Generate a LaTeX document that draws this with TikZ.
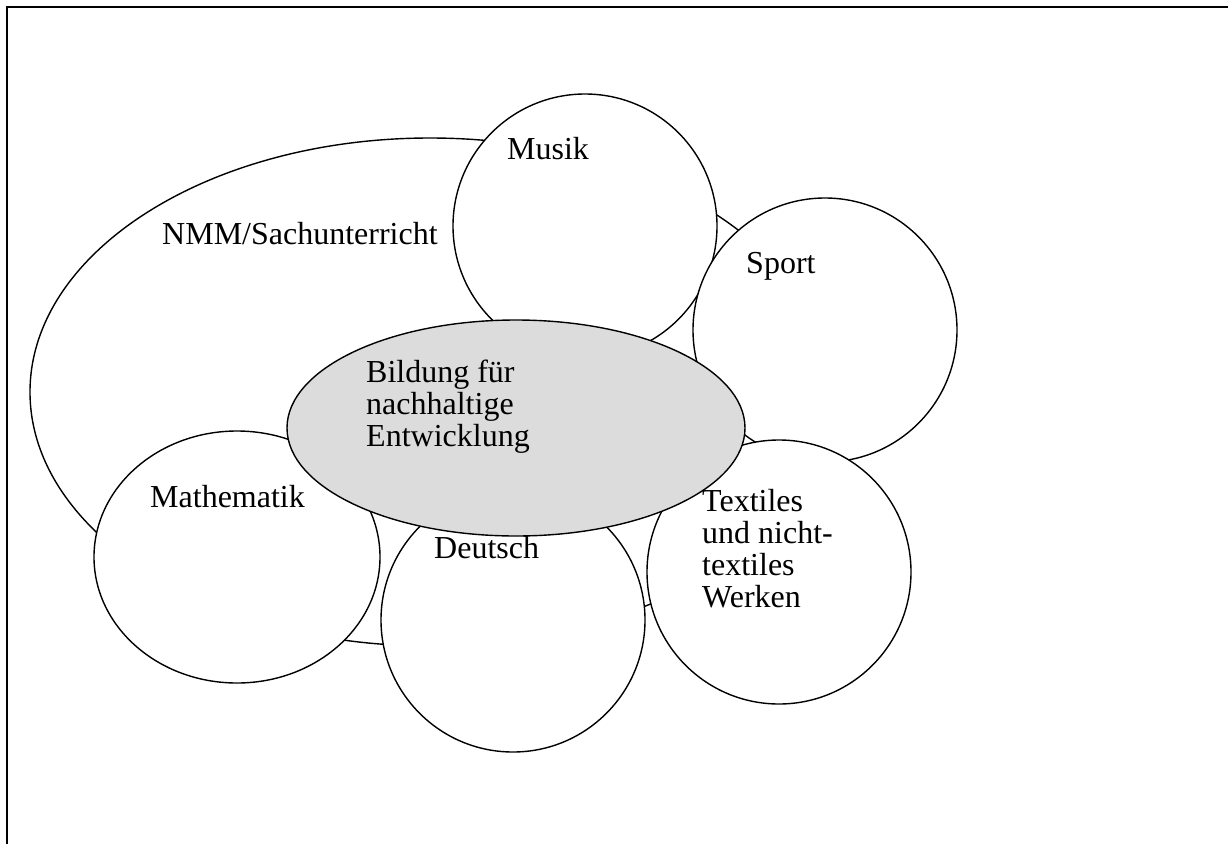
\documentclass[tikz,border=0pt]{standalone}
\usepackage{fontspec}
\setmainfont{Liberation Serif}
\usetikzlibrary{shapes.geometric}
\definecolor{bnegray}{RGB}{220,220,220}
\tikzset{
  subj/.style={draw, line width=1.4pt, fill=white, inner sep=0pt},
  lbl/.style={font=\fontsize{32}{32}\selectfont, inner sep=0pt, anchor=base west, align=left},
  frameline/.style={line width=2pt}
}
\begin{document}
\begin{tikzpicture}[x=1pt, y=-1pt]
\useasboundingbox (0,0) rectangle (1228,844);
\draw[frameline] (7,844) -- (7,7) -- (1228,7);
% big ellipse
\node[subj, ellipse, fill=none, minimum width=800pt, minimum height=508pt] (nmm) at (430,392) {};
% subject circles
\node[subj, circle, minimum size=264pt] (musik) at (585,226) {};
\node[subj, circle, minimum size=264pt] (sport) at (825,330) {};
\node[subj, circle, minimum size=264pt] (textiles) at (779,572) {};
\node[subj, circle, minimum size=264pt] (deutsch) at (513,620) {};
\node[subj, ellipse, minimum width=286pt, minimum height=252pt] (mathe) at (237,557) {};
% centre
\node[subj, ellipse, fill=bnegray, minimum width=458pt, minimum height=216pt] (bne) at (516,428) {};
% labels (base = baseline of last line)
\node[lbl] (tmusik) at (507,159) {Musik};
\node[lbl] (tnmm) at (162,244) {NMM/Sachunterricht};
\node[lbl] (tsport) at (746,273) {Sport};
\node[lbl] (tbne) at (366,446) {Bildung für\\nachhaltige\\Entwicklung};
\node[lbl] (tmathe) at (150,507) {Mathematik};
\node[lbl] (tdeutsch) at (434,558) {Deutsch};
\node[lbl] (ttextiles) at (702,607) {Textiles\\und nicht-\\textiles\\Werken};
\end{tikzpicture}
\end{document}
